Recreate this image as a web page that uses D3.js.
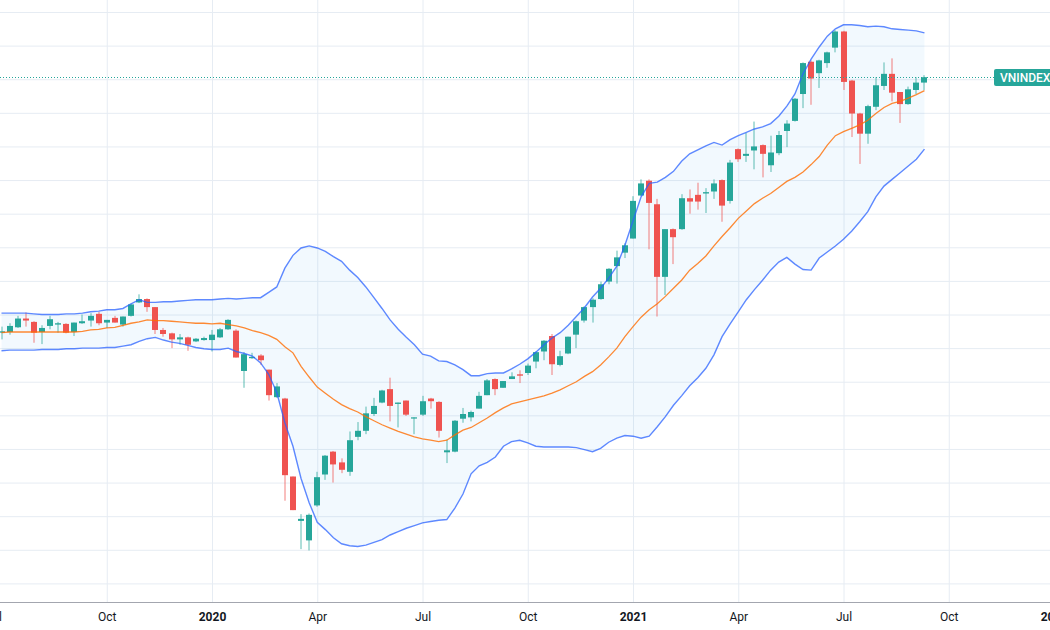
<!DOCTYPE html>
<html><head><meta charset="utf-8">
<script src="https://cdn.jsdelivr.net/npm/d3@7"></script>
<style>html,body{margin:0;padding:0;background:#fff;overflow:hidden}</style>
</head><body><svg id="chart" width="1050" height="630"></svg>
<script>
// ---- data (weekly VNINDEX bars, first bar week of 2019-07-08) ----
const firstWeek = "2019-07-08";
const open = [973,974,981,994,989,974,983,985,986,974, 987,991,1001,988,995,985,998,1018,1023,1011,
  977,972,963,966,960,962,962,966,978,976, 916,935,939,918,877,875,759,693,664,716,
  762,796,780,766,818,827,852,869,889,867, 872,846,851,875,870,795,796,845,847,860,
  880,904,891,904,911,913,930,945,968,925, 942,970,991,1011,1023,1049,1072,1092,1113,1177,
  1199,1164,1056,1127,1127,1173,1178,1180,1183,1200, 1169,1246,1236,1244,1252,1222,1240,1273,1288,1328,
  1376,1359,1374,1397,1421,1348,1299,1269,1309,1340, 1358,1331,1313,1334,1345];
const high = [982,987,998,1003,990,984,998,989,987,988, 1000,1002,1004,992,998,997,1016,1030,1024,1011,
  980,973,971,967,965,967,977,980,993,978, 944,943,941,918,898,876,759,703,704,766,
  791,797,786,826,840,863,876,888,906,869, 872,847,879,876,871,814,843,861,857,885,
  904,905,901,914,917,927,945,962,971,946, 967,991,1012,1024,1049,1069,1095,1106,1176,1201,
  1201,1172,1127,1128,1179,1186,1196,1188,1201,1201, 1230,1247,1270,1287,1253,1266,1273,1289,1322,1375,
  1378,1379,1391,1423,1422,1349,1300,1312,1353,1375, 1381,1331,1339,1353,1356];
const low = [963,970,980,982,958,956,978,973,972,968, 986,982,984,980,988,982,997,1017,1004,971,
  967,950,955,946,959,961,945,965,977,936, 891,934,925,872,876,723,709,651,649,714,
  754,750,764,760,813,822,849,868,841,832, 849,822,849,860,817,779,795,839,841,860,
  880,880,891,904,898,910,920,932,910,923, 941,950,988,988,1022,1045,1046,1084,1113,1176,
  1097,997,1029,1075,1126,1150,1156,1151,1172,1138, 1165,1227,1227,1216,1204,1212,1237,1249,1287,1307,
  1312,1337,1367,1390,1334,1264,1224,1254,1304,1334, 1317,1285,1312,1328,1334];
const close = [975,983,994,991,973,980,993,987,973,988, 990,998,987,992,988,997,1015,1023,1011,977,
  971,963,966,955,964,965,970,978,992,936, 941,937,932,880,893,761,709,696,702,758,
  790,777,769,813,827,853,864,887,864,869, 851,847,871,871,827,798,842,852,855,879,
  902,889,901,908,909,924,944,961,926,938, 967,990,1011,1022,1045,1068,1085,1103,1169,1195,
  1166,1056,1127,1115,1173,1168,1168,1182,1195,1162, 1226,1231,1239,1250,1239,1241,1267,1284,1321,1374,
  1351,1378,1390,1421,1346,1299,1269,1310,1341,1358, 1330,1313,1335,1345,1353];
// Bollinger Bands (20, 2)
const bbUpper = [1002,1002,1002,1002,1001,1000,1000,1000,1001,1001, 1002,1004,1005,1007,1007,1009,1016,1022,1018,1018,
  1019,1019,1020,1021,1022,1022,1022,1023,1024,1023, 1024,1025,1025,1033,1041,1069,1088,1099,1102,1099,
  1094,1086,1079,1066,1055,1041,1025,1009,992,978, 966,955,941,938,931,930,925,918,909,909,
  912,913,913,919,926,934,944,955,965,973, 984,997,1010,1026,1039,1054,1072,1103,1139,1175,
  1195,1197,1204,1213,1228,1239,1245,1251,1256,1252, 1260,1266,1271,1276,1279,1284,1295,1310,1328,1358,
  1380,1398,1414,1425,1431,1431,1430,1428,1429,1428, 1425,1424,1423,1422,1419];
const bbBasis = [973,974,974,974,974,974,974,974,974,974, 975,977,978,980,981,984,987,989,992,991,
  991,990,989,988,987,987,986,987,985,983, 980,976,973,969,963,952,943,923,907,892,
  883,874,866,860,855,848,842,836,831,826, 822,818,815,813,811,813,821,828,832,839,
  846,854,861,867,870,873,876,879,883,888, 894,900,908,915,925,937,950,967,982,996,
  1007,1016,1027,1039,1051,1066,1076,1087,1102,1116, 1129,1143,1154,1165,1173,1180,1189,1198,1204,1212,
  1223,1235,1252,1266,1272,1277,1282,1289,1299,1308, 1314,1317,1322,1327,1333];
const bbLower = [946,947,947,947,947,948,948,948,949,949, 950,950,950,951,951,953,955,960,964,966,
  962,959,957,954,951,949,948,948,950,945, 942,938,928,911,884,839,804,756,720,691,
  680,668,659,656,655,657,661,665,672,677, 682,686,690,692,694,695,712,733,763,775,
  780,788,804,811,813,809,804,803,803,803, 803,802,799,796,801,810,816,820,819,816,
  819,833,848,865,879,894,906,920,940,967, 986,1004,1022,1037,1051,1066,1078,1085,1075,1067,
  1066,1084,1093,1102,1112,1124,1138,1153,1175,1191, 1201,1211,1221,1231,1246];
const tickDates = ["2019-07-01","2019-10-07","2020-01-06","2020-04-06","2020-07-06","2020-10-05",
  "2021-01-04","2021-04-05","2021-07-05","2021-10-04","2022-01-03"];
const tickLabels = ["Jul","Oct","2020","Apr","Jul","Oct","2021","Apr","Jul","Oct","2022"];
const priceGrid = [600,650,700,750,800,850,900,950,1000,1050,1100,1150,1200,1250,1300,1350,1400,1450];
const symbol = "VNINDEX";

// ---- drawing ----
const W = 1050, H = 630, axisY = 602;
const parse = d3.utcParse("%Y-%m-%d");
const start = parse(firstWeek);
const bars = open.map((o, i) => ({
  date: d3.utcDay.offset(start, 7 * i), o, h: high[i], l: low[i], c: close[i],
  up: bbUpper[i], mid: bbBasis[i], lo: bbLower[i]
}));

const x = d3.scaleUtc().domain([parse("2020-01-06"), parse("2021-01-04")]).range([212, 633]);
const y = d3.scaleLinear().domain([600, 1450]).range([583.4, 12.0]);

const svg = d3.select("#chart");
svg.append("rect").attr("width", W).attr("height", H).attr("fill", "#ffffff");
svg.append("clipPath").attr("id", "plot").append("rect").attr("width", W).attr("height", axisY);

// horizontal grid
svg.append("g")
  .call(d3.axisRight(y).tickValues(priceGrid).tickSize(W).tickFormat(""))
  .call(g => { g.select(".domain").remove(); g.selectAll(".tick line").attr("stroke", "#e6ecf3"); });

// vertical grid + time labels
svg.append("g").attr("transform", `translate(0,${axisY})`)
  .call(d3.axisBottom(x).tickValues(tickDates.map(parse))
    .tickFormat((d, i) => tickLabels[i]).tickSize(-axisY).tickPadding(10))
  .call(g => {
    g.select(".domain").remove();
    g.selectAll(".tick line").attr("stroke", "#e6ecf3");
    g.selectAll(".tick text")
      .attr("font-family", "Roboto, 'Noto Sans', sans-serif")
      .attr("font-size", 12)
      .attr("fill", "#131722")
      .attr("font-weight", d => d.getUTCMonth() === 0 ? "bold" : "normal");
  });

// axis line
svg.append("line").attr("x1", 0).attr("x2", W).attr("y1", axisY + 0.5).attr("y2", axisY + 0.5)
  .attr("stroke", "#a3a6af").attr("stroke-width", 1);

const plot = svg.append("g").attr("clip-path", "url(#plot)");

// band fill
plot.append("path").datum(bars)
  .attr("d", d3.area().x(d => x(d.date)).y0(d => y(d.lo)).y1(d => y(d.up)))
  .attr("fill", "rgba(33,150,243,0.06)");

// candles
const green = "#26a69a", red = "#ef5350";
const cg = plot.append("g");
const candle = cg.selectAll("g").data(bars).join("g");
candle.append("line")
  .attr("x1", d => Math.round(x(d.date))).attr("x2", d => Math.round(x(d.date)))
  .attr("y1", d => y(d.h)).attr("y2", d => y(d.l))
  .attr("stroke", d => d.c >= d.o ? green : red).attr("stroke-width", 1).attr("stroke-opacity", 0.75);
candle.append("rect")
  .attr("x", d => Math.round(x(d.date)) - 3).attr("width", 6)
  .attr("y", d => y(Math.max(d.o, d.c)))
  .attr("height", d => Math.max(1.2, Math.abs(y(d.o) - y(d.c))))
  .attr("fill", d => d.c >= d.o ? green : red);

// bands
const lineOf = key => d3.line().x(d => x(d.date)).y(d => y(d[key]));
plot.append("path").datum(bars).attr("d", lineOf("mid")).attr("fill", "none")
  .attr("stroke", "#ff6d00").attr("stroke-width", 1.3).attr("stroke-opacity", 0.8);
plot.append("path").datum(bars).attr("d", lineOf("up")).attr("fill", "none")
  .attr("stroke", "#2962ff").attr("stroke-width", 1.4).attr("stroke-opacity", 0.75);
plot.append("path").datum(bars).attr("d", lineOf("lo")).attr("fill", "none")
  .attr("stroke", "#2962ff").attr("stroke-width", 1.4).attr("stroke-opacity", 0.75);

// last price line + label
const last = bars[bars.length - 1];
const ly = Math.round(y(last.c)) + 0.5;
svg.append("line").attr("x1", 0).attr("x2", 994).attr("y1", ly).attr("y2", ly)
  .attr("stroke", green).attr("stroke-width", 1).attr("stroke-dasharray", "1 2");
svg.append("rect").attr("x", 994).attr("y", ly - 8.5).attr("width", 70).attr("height", 17)
  .attr("rx", 2).attr("fill", green);
svg.append("text").attr("x", 1000).attr("y", ly + 4.5).text(symbol)
  .attr("font-family", "Roboto, 'Noto Sans', sans-serif").attr("font-size", 12)
  .attr("font-weight", 500).attr("fill", "#ffffff");
</script>
</body></html>
